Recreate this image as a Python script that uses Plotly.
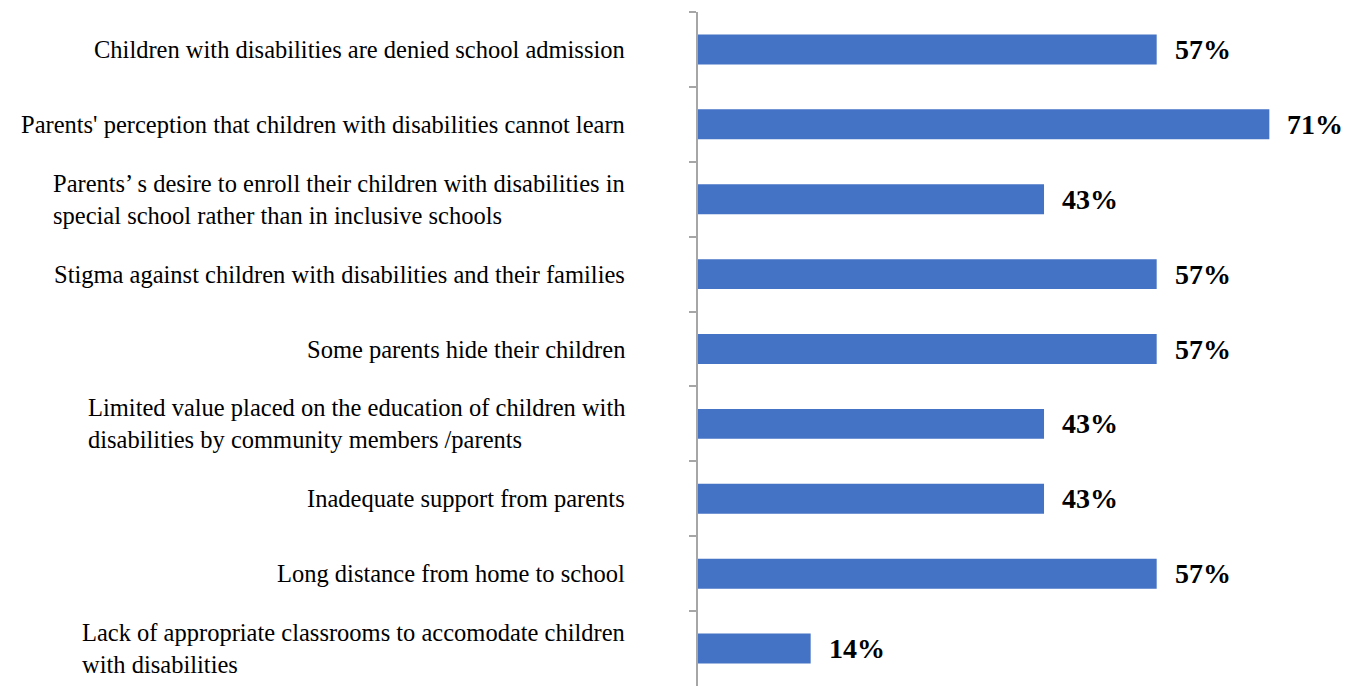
import plotly.graph_objects as go

categories = [
    "Children with disabilities are denied school admission",
    "Parents' perception that children with disabilities cannot learn",
    "Parents’ s desire to enroll their children with disabilities in<br>special school rather than in inclusive schools",
    "Stigma against children with disabilities and their families",
    "Some parents hide their children",
    "Limited value placed on the education of children with<br>disabilities by community members /parents",
    "Inadequate support from parents",
    "Long distance from home to school",
    "Lack of appropriate classrooms to accomodate children<br>with disabilities",
]
values = [57, 71, 43, 57, 57, 43, 43, 57, 14]
value_labels = ["57%", "71%", "43%", "57%", "57%", "43%", "43%", "57%", "14%"]

SERIF = "Liberation Serif, Times New Roman, serif"

fig = go.Figure(go.Bar(
    x=values, y=categories, orientation="h",
    marker=dict(color="#4472C4", line=dict(width=0)),
    width=0.4,
))

annotations = []
for c, v, t in zip(categories, values, value_labels):
    annotations.append(dict(x=v, y=c, xref="x", yref="y", text="<b>%s</b>" % t,
                            showarrow=False, xanchor="left", xshift=16,
                            font=dict(family=SERIF, size=28, color="#000000")))
    annotations.append(dict(x=0, y=c, xref="paper", yref="y", text=c,
                            showarrow=False, xanchor="right", align="left",
                            xshift=-71,
                            font=dict(family=SERIF, size=24.5, color="#000000")))

fig.update_layout(
    width=1349, height=686,
    margin=dict(l=698, r=0, t=12, b=0),
    plot_bgcolor="white", paper_bgcolor="white",
    showlegend=False,
    bargap=0.6,
    annotations=annotations,
    xaxis=dict(range=[0, 80.9], visible=False, fixedrange=True),
    yaxis=dict(autorange="reversed", type="category", showticklabels=False,
               showline=True, linecolor="#A6A6A6", linewidth=1.5,
               ticks="outside", tickson="boundaries", ticklen=7,
               tickcolor="#A6A6A6", tickwidth=1.5, showgrid=False,
               zeroline=False, fixedrange=True),
)

fig.write_html("out.html")
